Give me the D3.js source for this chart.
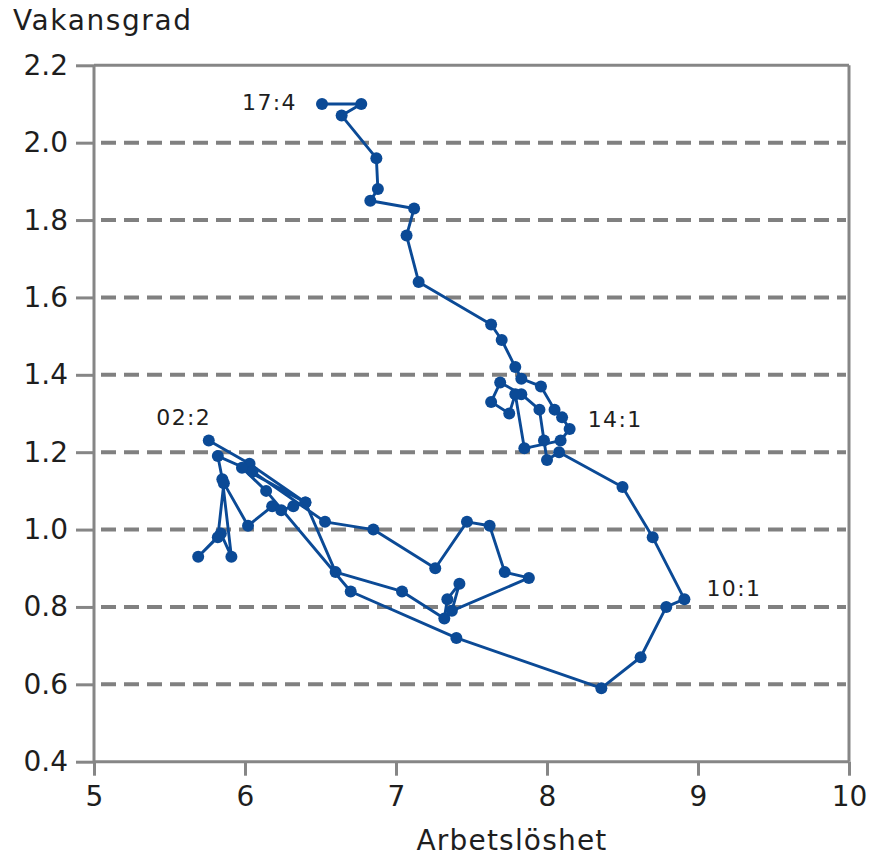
<!DOCTYPE html>
<html><head><meta charset="utf-8">
<script src="https://cdn.jsdelivr.net/npm/d3@7/dist/d3.min.js"></script>
<style>body{margin:0;background:#fff}svg{display:block}</style>
</head><body>
<svg id="chart" width="871" height="859"></svg>
<script>
// ---- data ----
const unemployment = [5.76,6.03,6.40,6.60,7.04,7.32,7.34,7.42,7.37,7.88,7.72,7.62,7.47,7.26,6.85,6.53,6.05,5.82,5.85,5.91,5.84,5.69,5.82,5.86,6.02,6.18,6.24,6.32,6.40,5.98,6.14,6.70,7.40,8.36,8.62,8.79,8.91,8.70,8.50,8.08,8.00,7.98,7.95,7.83,7.69,7.63,7.75,7.79,7.85,8.09,8.15,8.10,8.05,7.96,7.83,7.79,7.70,7.63,7.15,7.07,7.12,6.83,6.88,6.87,6.64,6.77,6.51];
const vacancy = [1.23,1.17,1.07,0.89,0.84,0.77,0.82,0.86,0.79,0.875,0.89,1.01,1.02,0.90,1.00,1.02,1.15,1.19,1.13,0.93,0.99,0.93,0.98,1.12,1.01,1.06,1.05,1.06,1.07,1.16,1.10,0.84,0.72,0.59,0.67,0.80,0.82,0.98,1.11,1.20,1.18,1.23,1.31,1.35,1.38,1.33,1.30,1.35,1.21,1.23,1.26,1.29,1.31,1.37,1.39,1.42,1.49,1.53,1.64,1.76,1.83,1.85,1.88,1.96,2.07,2.10,2.10];
const pointLabels = ["02:2","10:1","14:1","17:4"];
const pointLabelIndex = [0,36,50,66];
const xTicks = [5,6,7,8,9,10];
const yTicks = [0.4,0.6,0.8,1.0,1.2,1.4,1.6,1.8,2.0,2.2];
const gridValues = [0.6,0.8,1.0,1.2,1.4,1.6,1.8,2.0];
const xTitle = "Arbetslöshet";
const yTitle = "Vakansgrad";

// ---- layout ----
const L = 94, R = 849, T = 65.3, B = 761.7;
const font = "'DejaVu Sans', Verdana, sans-serif";
const frameColor = "#868686";
const blue = "#0b4a96";
const textColor = "#1e1e1e";

const svg = d3.select("#chart");
const x = d3.scaleLinear().domain([5,10]).range([L,R]);
const y = d3.scaleLinear().domain([0.4,2.2]).range([B,T]);

// gridlines
svg.append("g").selectAll("line").data(gridValues).join("line")
  .attr("x1", L + 7).attr("x2", R - 3)
  .attr("y1", d => y(d)).attr("y2", d => y(d))
  .attr("stroke", "#808080").attr("stroke-width", 4)
  .attr("stroke-dasharray", "15,8");

// frame top/right
svg.append("line").attr("x1", L).attr("x2", R).attr("y1", T).attr("y2", T)
  .attr("stroke", frameColor).attr("stroke-width", 3);
svg.append("line").attr("x1", R).attr("x2", R).attr("y1", T).attr("y2", B)
  .attr("stroke", frameColor).attr("stroke-width", 3);

// y axis
const yAxis = svg.append("g").attr("transform", `translate(${L},0)`)
  .call(d3.axisLeft(y).tickValues(yTicks).tickFormat(d3.format(".1f")).tickSize(18).tickPadding(8));
// x axis
const xAxis = svg.append("g").attr("transform", `translate(0,${B})`)
  .call(d3.axisBottom(x).tickValues(xTicks).tickFormat(d3.format("d")).tickSize(14).tickPadding(10));

[yAxis, xAxis].forEach(g => {
  g.select(".domain").attr("stroke", frameColor).attr("stroke-width", 3);
  g.selectAll(".tick line").attr("stroke", frameColor).attr("stroke-width", 3);
  g.selectAll(".tick text").attr("fill", textColor).style("font-family", font).style("font-size", "28px");
});
yAxis.select(".domain").attr("d", `M0,${B}V${T}`);
xAxis.select(".domain").attr("d", `M${L},0H${R}`);
xAxis.selectAll(".tick text").attr("dy", "0.74em");

// titles
svg.append("text").attr("x", 13).attr("y", 30).text(yTitle)
  .attr("fill", textColor).style("font-family", font).style("font-size", "28px").style("letter-spacing", "1.6px");
svg.append("text").attr("x", 512).attr("y", 850).attr("text-anchor", "middle").text(xTitle)
  .attr("fill", textColor).style("font-family", font).style("font-size", "28px").style("letter-spacing", "1.2px");

// path
const pts = unemployment.map((u, i) => [u, vacancy[i]]);
svg.append("path").datum(pts)
  .attr("d", d3.line().x(d => x(d[0])).y(d => y(d[1])))
  .attr("fill", "none").attr("stroke", blue).attr("stroke-width", 2.9)
  .attr("stroke-linejoin", "round");
svg.append("g").selectAll("circle").data(pts).join("circle")
  .attr("cx", d => x(d[0])).attr("cy", d => y(d[1])).attr("r", 6)
  .attr("fill", blue);

// point labels
const labelOffsets = [
  {dx: -25, dy: -16, anchor: "middle"},
  {dx: 22, dy: -3, anchor: "start"},
  {dx: 18, dy: -2, anchor: "start"},
  {dx: -25, dy: 6, anchor: "end"}
];
svg.append("g").selectAll("text").data(pointLabels).join("text")
  .attr("x", (d, i) => x(unemployment[pointLabelIndex[i]]) + labelOffsets[i].dx)
  .attr("y", (d, i) => y(vacancy[pointLabelIndex[i]]) + labelOffsets[i].dy)
  .attr("text-anchor", (d, i) => labelOffsets[i].anchor)
  .text(d => d)
  .attr("fill", textColor).style("font-family", font).style("font-size", "22px").style("letter-spacing", "1.4px");
</script>
</body></html>
